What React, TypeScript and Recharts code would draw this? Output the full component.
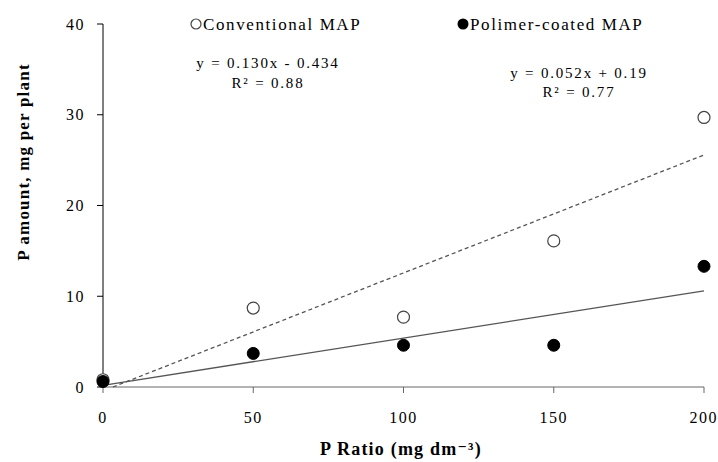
import React from "react";
import { ScatterChart, Scatter, XAxis, YAxis } from "recharts";

const pRatio = [0, 50, 100, 150, 200];
const conventionalValues = [0.8, 8.7, 7.7, 16.1, 29.7];
const polymerValues = [0.6, 3.7, 4.6, 4.6, 13.3];

const conventionalTrendX = [3.3, 200];
const conventionalTrendY = [0, 25.57];
const polymerTrendX = [0, 200];
const polymerTrendY = [0.19, 10.59];

const xTicks = [0, 50, 100, 150, 200];
const yTicks = [0, 10, 20, 30, 40];

const conventionalData = pRatio.map((x, i) => ({ x, y: conventionalValues[i] }));
const polymerData = pRatio.map((x, i) => ({ x, y: polymerValues[i] }));
const conventionalTrend = conventionalTrendX.map((x, i) => ({ x, y: conventionalTrendY[i] }));
const polymerTrend = polymerTrendX.map((x, i) => ({ x, y: polymerTrendY[i] }));

const FONT = "Liberation Serif, DejaVu Serif, serif";

const OpenDot = (props: any) => (
  <circle cx={props.cx} cy={props.cy} r={6} fill="#fff" stroke="#444" strokeWidth={1.2} />
);
const FilledDot = (props: any) => (
  <circle cx={props.cx} cy={props.cy} r={6} fill="#000" stroke="#000" strokeWidth={1} />
);
const NoDot = () => <g />;

export default function App() {
  return (
    <div style={{ position: "absolute", left: 0, top: 0, width: 718, height: 462, background: "#fff", fontFamily: FONT }}>
      <ScatterChart width={718} height={462} margin={{ top: 24, right: 14, bottom: 0, left: 0 }}>
        <XAxis
          type="number"
          dataKey="x"
          domain={[0, 200]}
          ticks={xTicks}
          height={75}
          stroke="#666"
          tickSize={6}
          tickMargin={19}
          tick={{ fill: "#000", fontSize: 16, fontFamily: FONT, letterSpacing: 1.5 }}
        />
        <YAxis
          type="number"
          dataKey="y"
          domain={[0, 40]}
          ticks={yTicks}
          width={103}
          stroke="#000"
          tickSize={6}
          tickMargin={12}
          tick={{ fill: "#000", fontSize: 16, fontFamily: FONT, letterSpacing: 1.5 }}
        />
        <Scatter
          data={conventionalTrend}
          line={{ stroke: "#555", strokeWidth: 1.3, strokeDasharray: "4 3" }}
          shape={NoDot}
          isAnimationActive={false}
        />
        <Scatter
          data={polymerTrend}
          line={{ stroke: "#555", strokeWidth: 1.3 }}
          shape={NoDot}
          isAnimationActive={false}
        />
        <Scatter data={conventionalData} shape={OpenDot} isAnimationActive={false} />
        <Scatter data={polymerData} shape={FilledDot} isAnimationActive={false} />
      </ScatterChart>
      <svg
        width={718}
        height={462}
        style={{ position: "absolute", left: 0, top: 0, pointerEvents: "none", fontFamily: FONT }}
      >
        <circle cx={196} cy={24} r={5} fill="#fff" stroke="#444" strokeWidth={1.2} />
        <text x={203} y={30} fontSize={17} letterSpacing={1.6} fill="#000">Conventional MAP</text>
        <circle cx={463} cy={24} r={5.5} fill="#000" />
        <text x={470} y={30} fontSize={17} letterSpacing={1.6} fill="#000">Polimer-coated MAP</text>

        <text x={268} y={68} fontSize={15} letterSpacing={1.8} textAnchor="middle" fill="#000">y = 0.130x - 0.434</text>
        <text x={268} y={88} fontSize={15} letterSpacing={1.8} textAnchor="middle" fill="#000">R² = 0.88</text>
        <text x={579} y={78} fontSize={15} letterSpacing={1.8} textAnchor="middle" fill="#000">y = 0.052x + 0.19</text>
        <text x={579} y={97} fontSize={15} letterSpacing={1.8} textAnchor="middle" fill="#000">R² = 0.77</text>

        <text
          x={0}
          y={0}
          transform="translate(29 162) rotate(-90)"
          fontSize={17}
          fontWeight="bold"
          letterSpacing={1.2}
          textAnchor="middle"
          fill="#000"
        >
          P amount, mg per plant
        </text>
        <text x={401} y={455} fontSize={18} fontWeight="bold" letterSpacing={1.2} textAnchor="middle" fill="#000">
          P Ratio (mg dm⁻³)
        </text>
      </svg>
    </div>
  );
}
